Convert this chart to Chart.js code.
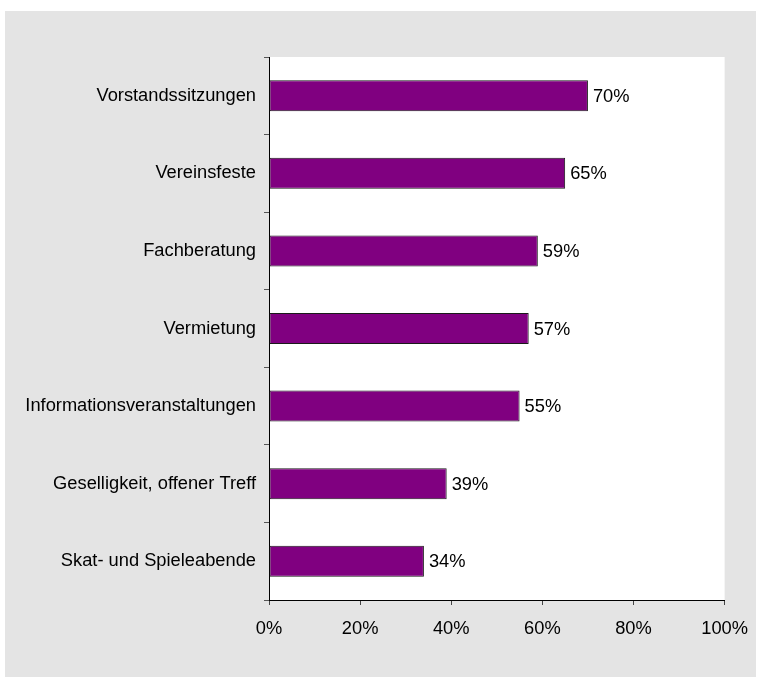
<!DOCTYPE html>
<html>
<head>
<meta charset="utf-8">
<script src="https://cdn.jsdelivr.net/npm/chart.js@4"></script>
<style>
  html, body { margin: 0; padding: 0; background: #ffffff; }
  #wrap { position: relative; width: 761px; height: 677px; }
</style>
</head>
<body>
<div id="wrap"><canvas id="chart" width="761" height="677"></canvas></div>
<script>
// Angebote im Vereinsheim - share of clubs (%)
const categories = [
    'Vorstandssitzungen',
    'Vereinsfeste',
    'Fachberatung',
    'Vermietung',
    'Informationsveranstaltungen',
    'Geselligkeit, offener Treff',
    'Skat- und Spieleabende'
];
const shares = [70, 65, 59, 57, 55, 39, 34];
const xTicks = [0, 20, 40, 60, 80, 100];

const FONT = '"Liberation Sans", Arial, Helvetica, sans-serif';
const FONT_SIZE = 18.3;

// gray panel behind everything, white plot area
const backdrop = {
    id: 'backdrop',
    beforeDraw(chart) {
        const { ctx, chartArea } = chart;
        ctx.save();
        ctx.fillStyle = '#e4e4e4';
        ctx.fillRect(5, 11, 751, 666);
        ctx.fillStyle = '#ffffff';
        ctx.fillRect(chartArea.left, chartArea.top,
            chartArea.right - chartArea.left, chartArea.bottom - chartArea.top);
        ctx.restore();
    }
};

// value labels at the bar ends
const valueLabels = {
    id: 'valueLabels',
    afterDatasetsDraw(chart) {
        const { ctx } = chart;
        const meta = chart.getDatasetMeta(0);
        ctx.save();
        ctx.font = FONT_SIZE + 'px ' + FONT;
        ctx.fillStyle = '#000000';
        ctx.textAlign = 'left';
        ctx.textBaseline = 'middle';
        meta.data.forEach((bar, i) => {
            ctx.fillText(shares[i] + '%', bar.x + 5, bar.y + 1);
        });
        ctx.restore();
    }
};

new Chart(document.getElementById('chart'), {
    type: 'bar',
    data: {
        labels: categories,
        datasets: [{
            data: shares,
            backgroundColor: '#800080',
            borderColor: '#1a1a1a',
            borderWidth: 1,
            borderSkipped: false,
            categoryPercentage: 1,
            barPercentage: 0.4
        }]
    },
    options: {
        indexAxis: 'y',
        responsive: false,
        animation: false,
        layout: { padding: { left: 0, top: 57, right: 35, bottom: 0 } },
        plugins: {
            legend: { display: false },
            tooltip: { enabled: false }
        },
        scales: {
            x: {
                min: 0,
                max: 100,
                afterBuildTicks(scale) {
                    scale.ticks = xTicks.map(v => ({ value: v }));
                },
                afterFit(scale) { scale.height = 77; },
                border: { display: true, color: '#000000', width: 1 },
                grid: { drawOnChartArea: false, drawTicks: true, tickLength: 5, color: '#444444' },
                ticks: {
                    padding: 13,
                    color: '#000000',
                    font: { family: FONT, size: FONT_SIZE },
                    callback: v => v + '%'
                }
            },
            y: {
                afterFit(scale) { scale.width = 269; },
                border: { display: true, color: '#000000', width: 1 },
                grid: { offset: true, drawOnChartArea: false, drawTicks: true, tickLength: 5, color: '#555555' },
                ticks: {
                    padding: 8,
                    color: '#000000',
                    font: { family: FONT, size: FONT_SIZE }
                }
            }
        }
    },
    plugins: [backdrop, valueLabels]
});
</script>
</body>
</html>
